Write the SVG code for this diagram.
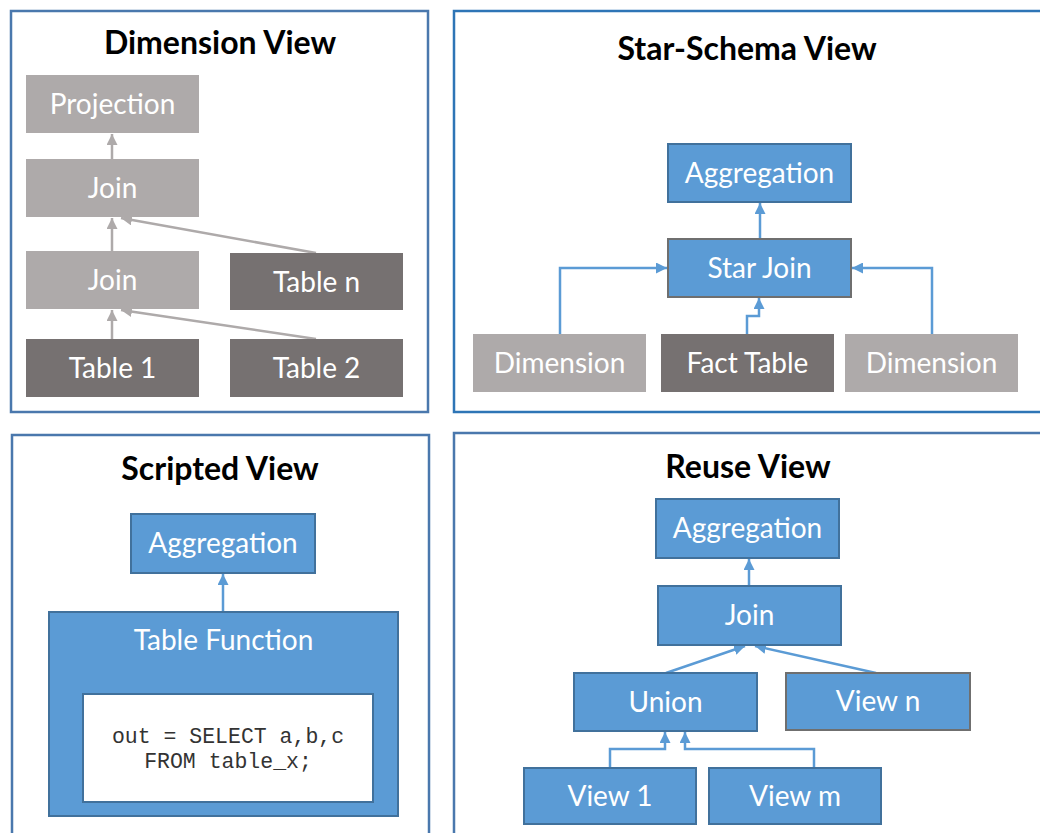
<svg xmlns="http://www.w3.org/2000/svg" width="1040" height="833" viewBox="0 0 1040 833">
  <style>
    .panel { fill: #ffffff; stroke: #4a78ad; stroke-width: 2.5; }
    .panel-bright { fill: #ffffff; stroke: #2e75b6; stroke-width: 2.5; }
    .title { font-family: Lato, "Liberation Sans", sans-serif; font-weight: bold; font-size: 32px; fill: #000000; text-anchor: middle; }
    .label { font-family: Lato, "Liberation Sans", sans-serif; font-size: 28px; fill: #ffffff; text-anchor: middle; }
    .code { font-family: "Liberation Mono", "Courier New", monospace; font-size: 21.5px; fill: #333333; text-anchor: middle; }
    .light { fill: #aeaaaa; }
    .dark { fill: #767171; }
    .blue { fill: #5b9bd5; stroke: #41719c; stroke-width: 2; }
    .blue-gray { fill: #5b9bd5; stroke: #6f6f6f; stroke-width: 2; }
    .code-box { fill: #ffffff; stroke: #41719c; stroke-width: 2; }
    .edge-gray { fill: none; stroke: #aeaaaa; stroke-width: 2.5; marker-end: url(#head-gray); }
    .edge-blue { fill: none; stroke: #5b9bd5; stroke-width: 2.5; marker-end: url(#head-blue); }
  </style>
  <defs>
    <marker id="head-gray" viewBox="0 0 10 10" refX="10" refY="5" markerWidth="11" markerHeight="11" markerUnits="userSpaceOnUse" orient="auto">
      <path d="M0,0 L10,5 L0,10 Z" fill="#aeaaaa"/>
    </marker>
    <marker id="head-blue" viewBox="0 0 10 10" refX="10" refY="5" markerWidth="11" markerHeight="11" markerUnits="userSpaceOnUse" orient="auto">
      <path d="M0,0 L10,5 L0,10 Z" fill="#5b9bd5"/>
    </marker>
  </defs>

  <rect width="1040" height="833" fill="#ffffff"/>

  <!-- Panel frames -->
  <g id="panels">
    <rect class="panel" x="11" y="11" width="417" height="401"/>
    <rect class="panel-bright" x="454" y="11" width="600" height="401"/>
    <rect class="panel" x="12" y="435" width="417" height="420"/>
    <rect class="panel" x="454" y="433" width="600" height="420"/>
  </g>

  <g id="titles">
    <text class="title" x="220" y="54">Dimension View</text>
    <text class="title" x="747" y="60">Star-Schema View</text>
    <text class="title" x="220" y="480">Scripted View</text>
    <text class="title" x="748" y="478">Reuse View</text>
  </g>

  <!-- Connectors -->
  <g id="connectors">
    <!-- Dimension View -->
    <line class="edge-gray" x1="112" y1="159" x2="112" y2="134"/>
    <line class="edge-gray" x1="112" y1="251" x2="112" y2="218"/>
    <line class="edge-gray" x1="316" y1="253" x2="121" y2="218"/>
    <line class="edge-gray" x1="112" y1="339" x2="112" y2="310"/>
    <line class="edge-gray" x1="316" y1="339" x2="121" y2="310"/>
    <!-- Star-Schema View -->
    <line class="edge-blue" x1="760" y1="239" x2="760" y2="203"/>
    <polyline class="edge-blue" points="560,334 560,268 667,268"/>
    <polyline class="edge-blue" points="932,334 932,268 852,268"/>
    <polyline class="edge-blue" points="747,334 747,316 759,316 759,298"/>
    <!-- Scripted View -->
    <line class="edge-blue" x1="223" y1="612" x2="223" y2="574"/>
    <!-- Reuse View -->
    <line class="edge-blue" x1="749" y1="586" x2="749" y2="559"/>
    <line class="edge-blue" x1="666" y1="673" x2="745" y2="646"/>
    <line class="edge-blue" x1="876" y1="673" x2="755" y2="646"/>
    <polyline class="edge-blue" points="610,768 610,749 665,749 665,732"/>
    <polyline class="edge-blue" points="814,768 814,749 685,749 685,732"/>
  </g>

  <!-- Dimension View nodes -->
  <g id="dim-projection">
    <rect class="light" x="26" y="75" width="173" height="58"/>
    <text class="label" x="112.5" y="114">Projection</text>
  </g>
  <g id="dim-join-upper">
    <rect class="light" x="26" y="159" width="173" height="58"/>
    <text class="label" x="112.5" y="198">Join</text>
  </g>
  <g id="dim-join-lower">
    <rect class="light" x="26" y="251" width="173" height="58"/>
    <text class="label" x="112.5" y="290">Join</text>
  </g>
  <g id="dim-table-n">
    <rect class="dark" x="230" y="253" width="173" height="57"/>
    <text class="label" x="316.5" y="292">Table n</text>
  </g>
  <g id="dim-table-1">
    <rect class="dark" x="26" y="339" width="173" height="58"/>
    <text class="label" x="112.5" y="378">Table 1</text>
  </g>
  <g id="dim-table-2">
    <rect class="dark" x="230" y="339" width="173" height="58"/>
    <text class="label" x="316.5" y="378">Table 2</text>
  </g>

  <!-- Star-Schema View nodes -->
  <g id="star-aggregation">
    <rect class="blue" x="668" y="144" width="183" height="58"/>
    <text class="label" x="759.5" y="183">Aggregation</text>
  </g>
  <g id="star-join">
    <rect class="blue-gray" x="668" y="239" width="183" height="58"/>
    <text class="label" x="759.5" y="278">Star Join</text>
  </g>
  <g id="star-dimension-left">
    <rect class="light" x="473" y="334" width="173" height="58"/>
    <text class="label" x="559.5" y="373">Dimension</text>
  </g>
  <g id="star-fact-table">
    <rect class="dark" x="661" y="334" width="173" height="58"/>
    <text class="label" x="747.5" y="373">Fact Table</text>
  </g>
  <g id="star-dimension-right">
    <rect class="light" x="845" y="334" width="173" height="58"/>
    <text class="label" x="931.5" y="373">Dimension</text>
  </g>

  <!-- Scripted View nodes -->
  <g id="script-aggregation">
    <rect class="blue" x="131" y="514" width="184" height="59"/>
    <text class="label" x="223" y="553">Aggregation</text>
  </g>
  <g id="script-table-function">
    <rect class="blue" x="49" y="612" width="349" height="204"/>
    <text class="label" x="223.5" y="650">Table Function</text>
    <rect class="code-box" x="83" y="694" width="290" height="108"/>
    <text class="code" x="228" y="743" xml:space="preserve">out = SELECT a,b,c</text>
    <text class="code" x="228" y="768">FROM table_x;</text>
  </g>

  <!-- Reuse View nodes -->
  <g id="reuse-aggregation">
    <rect class="blue" x="656" y="499" width="183" height="59"/>
    <text class="label" x="747.5" y="538">Aggregation</text>
  </g>
  <g id="reuse-join">
    <rect class="blue" x="658" y="586" width="183" height="59"/>
    <text class="label" x="749.5" y="625">Join</text>
  </g>
  <g id="reuse-union">
    <rect class="blue" x="574" y="673" width="183" height="58"/>
    <text class="label" x="665.5" y="712">Union</text>
  </g>
  <g id="reuse-view-n">
    <rect class="blue-gray" x="786" y="673" width="184" height="57"/>
    <text class="label" x="878" y="711">View n</text>
  </g>
  <g id="reuse-view-1">
    <rect class="blue" x="524" y="768" width="172" height="56"/>
    <text class="label" x="610" y="806">View 1</text>
  </g>
  <g id="reuse-view-m">
    <rect class="blue" x="709" y="768" width="172" height="56"/>
    <text class="label" x="795" y="806">View m</text>
  </g>
</svg>
